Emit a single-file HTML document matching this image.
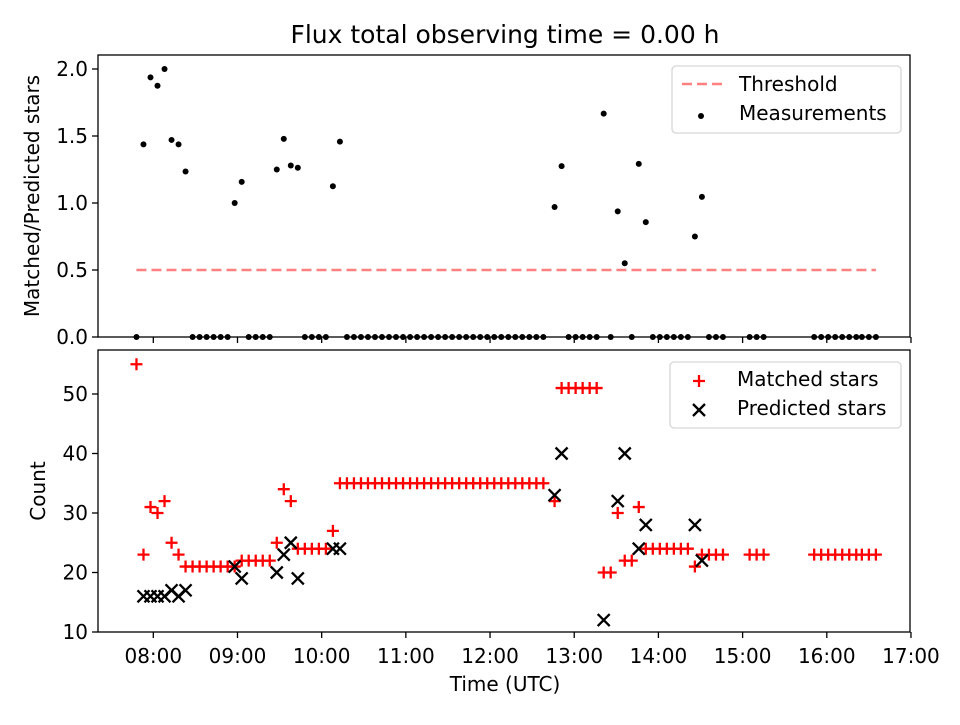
<!DOCTYPE html>
<html><head><meta charset="utf-8"><style>
body{margin:0;background:#fff}
svg text{font-family:"DejaVu Sans","Liberation Sans",sans-serif;fill:#000}
</style></head><body>
<svg id="chart" width="960" height="720" viewBox="0 0 960 720" xmlns="http://www.w3.org/2000/svg">
<rect width="960" height="720" fill="#fff"/>
<text x="505" y="43" font-size="25" text-anchor="middle">Flux total observing time = 0.00 h</text>
<g id="topPanel"></g>
<g id="botPanel"></g>
<text transform="translate(39,196) rotate(-90)" font-size="20" text-anchor="middle">Matched/Predicted stars</text>
<text transform="translate(45,491) rotate(-90)" font-size="20" text-anchor="middle">Count</text>
<text x="505" y="691" font-size="20" text-anchor="middle">Time (UTC)</text>
</svg>
<script>
const times=[468,473,478,483,488,493,498,503,508,513,518,523,528,533,538,543,548,553,558,563,568,573,578,583,588,593,598,603,608,613,
618,623,628,633,638,643,648,653,658,663,668,673,678,683,688,693,698,703,708,713,718,723,728,733,738,743,748,753,758,
766,771,776,781,786,791,796,801,806,811,816,821,826,831,836,841,846,851,856,861,866,871,876,881,886,
905,910,915,951,956,961,966,971,976,981,985,990,995];
const matched=[55,23,31,30,32,25,23,21,21,21,21,21,21,21,21,22,22,22,22,22,25,34,32,24,24,24,24,24,27,35,
35,35,35,35,35,35,35,35,35,35,35,35,35,35,35,35,35,35,35,35,35,35,35,35,35,35,35,35,35,
32,51,51,51,51,51,51,20,20,30,22,22,31,24,24,24,24,24,24,24,21,23,23,23,23,
23,23,23,23,23,23,23,23,23,23,23,23,23];
const N=null;
const predicted=[N,16,16,16,16,17,16,17,N,N,N,N,N,N,21,19,N,N,N,N,20,23,25,19,N,N,N,N,24,24,
N,N,N,N,N,N,N,N,N,N,N,N,N,N,N,N,N,N,N,N,N,N,N,N,N,N,N,N,N,
33,40,N,N,N,N,N,12,N,32,40,N,24,28,N,N,N,N,N,N,28,22,N,N,N,
N,N,N,N,N,N,N,N,N,N,N,N,N];
const threshold=0.5;
const xTickLabels=["08:00","09:00","10:00","11:00","12:00","13:00","14:00","15:00","16:00","17:00"];
const xTickMinutes=[480,540,600,660,720,780,840,900,960,1020];
const ratioTicks=[0.0,0.5,1.0,1.5,2.0];
const countTicks=[10,20,30,40,50];

const NS="http://www.w3.org/2000/svg";
function mk(parent,tag,attrs){const e=document.createElementNS(NS,tag);for(const k in attrs)e.setAttribute(k,attrs[k]);parent.appendChild(e);return e;}
const L=98,R=910;
const xs=t=>153.3+(t-480)*1.4031;
const yTop=v=>337-134*v;
const yBot=v=>632-(v-10)*5.95;
const topG=document.getElementById('topPanel'),botG=document.getElementById('botPanel');

function frame(g,T,B,name){
  const r=mk(g,'rect',{x:L,y:T,width:R-L,height:B-T,fill:'none',stroke:'#000','stroke-width':1.3});
  
  
  xTickMinutes.forEach(m=>{
    const t=mk(g,'line',{x1:xs(m),x2:xs(m),y1:B,y2:B+6,stroke:'#000','stroke-width':1.3});
    
    
  });
}
frame(topG,55,337,'ratio');
ratioTicks.forEach(v=>{
  const t=mk(topG,'line',{x1:L-6,x2:L,y1:yTop(v),y2:yTop(v),stroke:'#000','stroke-width':1.3});
  
  
  const s=mk(topG,'text',{x:L-10,y:yTop(v)+7,'font-size':20,'text-anchor':'end'});
  s.textContent=v.toFixed(1);
  
  
});
const th=mk(topG,'line',{x1:xs(times[0]),x2:xs(times[times.length-1]),y1:yTop(threshold),y2:yTop(threshold),stroke:'#ff8080','stroke-width':2.4,'stroke-dasharray':'10 5'});


times.forEach((t,i)=>{
  const r=predicted[i]?matched[i]/predicted[i]:0;
  const c=mk(topG,'circle',{cx:xs(t),cy:yTop(r),r:3,fill:'#000'});
  
  
});
const lg1=mk(topG,'g',{});


mk(lg1,'rect',{x:672,y:66,width:229,height:67,rx:4,fill:'#fff',stroke:'#d6d6d6','stroke-width':1.3});
mk(lg1,'line',{x1:682,x2:722,y1:84,y2:84,stroke:'#ff8080','stroke-width':2.4,'stroke-dasharray':'10 5'});
const t1=mk(lg1,'text',{x:739,y:91,'font-size':20});t1.textContent='Threshold';
mk(lg1,'circle',{cx:701,cy:116,r:3,fill:'#000'});
const t2=mk(lg1,'text',{x:739,y:120,'font-size':20});t2.textContent='Measurements';

frame(botG,350,632,'count');
countTicks.forEach(v=>{
  const t=mk(botG,'line',{x1:L-6,x2:L,y1:yBot(v),y2:yBot(v),stroke:'#000','stroke-width':1.3});
  
  
  const s=mk(botG,'text',{x:L-10,y:yBot(v)+7,'font-size':20,'text-anchor':'end'});
  s.textContent=v;
  
  
});
xTickMinutes.forEach((m,i)=>{
  const s=mk(botG,'text',{x:xs(m),y:663,'font-size':20,'text-anchor':'middle'});
  s.textContent=xTickLabels[i];
  
  
});
function plus(g,cx,cy){return mk(g,'path',{d:`M${cx-6},${cy}H${cx+6}M${cx},${cy-6}V${cy+6}`,stroke:'#f00','stroke-width':2.3,fill:'none'});}
function cross(g,cx,cy){return mk(g,'path',{d:`M${cx-6},${cy-6}L${cx+6},${cy+6}M${cx+6},${cy-6}L${cx-6},${cy+6}`,stroke:'#000','stroke-width':2.3,fill:'none'});}
times.forEach((t,i)=>{
  const p=plus(botG,xs(t),yBot(matched[i]));
  
  
});
times.forEach((t,i)=>{
  if(predicted[i]==null)return;
  const p=cross(botG,xs(t),yBot(predicted[i]));
  
  
});
const lg2=mk(botG,'g',{});


mk(lg2,'rect',{x:670,y:362,width:231,height:66,rx:4,fill:'#fff',stroke:'#d6d6d6','stroke-width':1.3});
plus(lg2,699,381);
const t3=mk(lg2,'text',{x:737,y:386,'font-size':20});t3.textContent='Matched stars';
cross(lg2,699,410);
const t4=mk(lg2,'text',{x:737,y:415,'font-size':20});t4.textContent='Predicted stars';
</script>
</body></html>
